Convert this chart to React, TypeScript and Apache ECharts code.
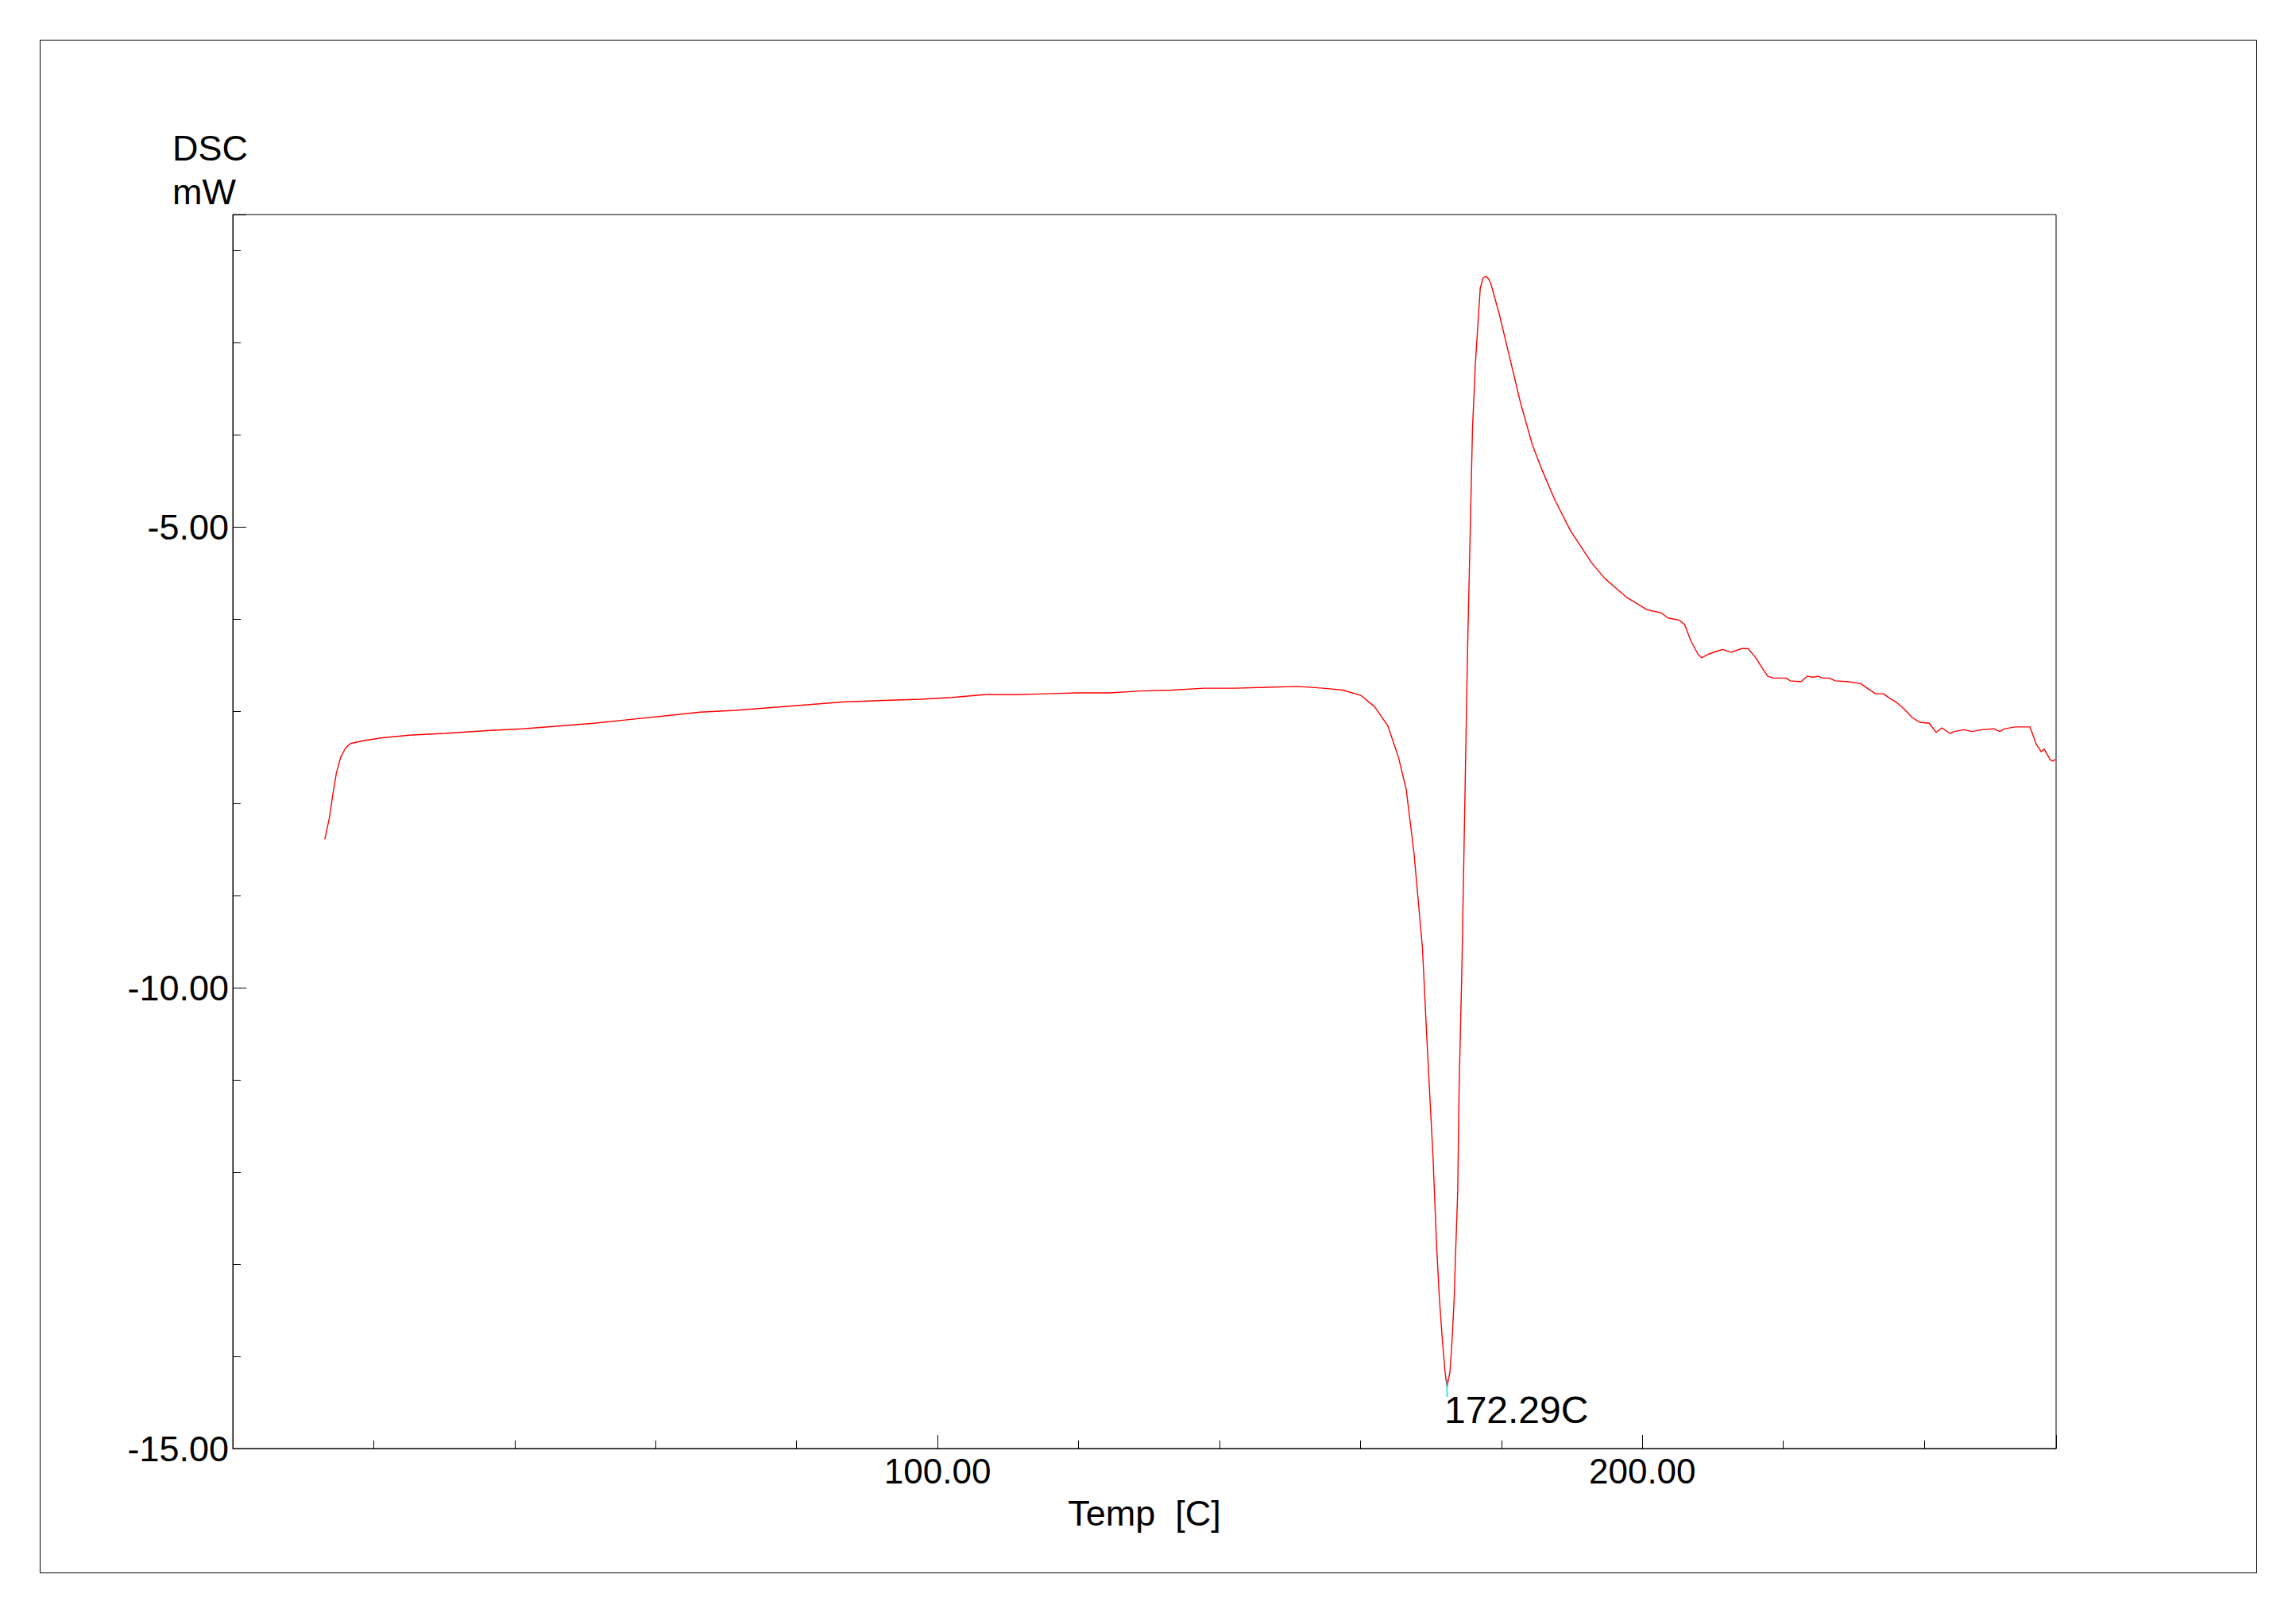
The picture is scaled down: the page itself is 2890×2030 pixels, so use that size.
import React, { useEffect, useRef } from 'react';
import * as echarts from 'echarts';

// Temperature (°C) of each sample on the DSC trace
const temps = [
  13.05, 13.7, 14.2, 14.7, 15.3, 16.0, 16.7, 18.5, 21.0, 25.0, 30.1, 36.1, 41.1, 46.2, 51.2, 56.2,
  61.3, 66.3, 71.3, 76.4, 81.4, 86.4, 93.2, 97.6, 102.1, 106.6, 111.0, 115.5, 119.9, 124.4, 128.8,
  133.3, 137.8, 142.2, 146.7, 151.1, 154.7, 157.5, 160.1, 162.0, 163.9, 165.4, 166.5, 167.6, 168.8,
  169.5, 170.3, 170.8, 171.2, 171.6, 172.0, 172.29, 172.7, 173.0, 173.3, 173.5, 173.8, 174.0, 174.4,
  174.8, 175.2, 175.5, 175.9, 176.3, 176.7, 177.0, 177.4, 177.8, 178.2, 178.5, 179.7, 181.2, 182.7,
  184.4, 185.7, 187.6, 189.8, 192.8, 194.7, 197.7, 200.7, 202.6, 203.7, 205.2, 206.0, 206.9, 207.9,
  208.4, 209.4, 210.5, 211.4, 212.6, 214.1, 215.0, 216.1, 216.9, 217.8, 218.6, 220.4, 221.0, 222.5,
  223.4, 224.2, 225.0, 225.5, 226.5, 227.4, 229.3, 231.0, 231.9, 233.1, 234.2, 235.1, 236.0, 237.2,
  238.3, 239.4, 240.7, 241.7, 242.5, 243.6, 244.3, 245.6, 246.8, 248.1, 249.9, 250.7, 251.4, 252.9,
  255.0, 255.9, 256.6, 257.0, 257.9, 258.3, 258.6,
];

// DSC signal (mW) for each temperature above
const dsc = [
  -8.39, -8.16, -7.9, -7.67, -7.5, -7.4, -7.35, -7.32, -7.29, -7.26, -7.24, -7.21, -7.19, -7.16, -7.13, -7.09,
  -7.05, -7.01, -6.99, -6.96, -6.93, -6.9, -6.88, -6.87, -6.85, -6.82, -6.82, -6.81, -6.8, -6.8, -6.78,
  -6.77, -6.75, -6.75, -6.74, -6.73, -6.75, -6.77, -6.83, -6.95, -7.16, -7.5, -7.85, -8.54, -9.57,
  -10.67, -11.84, -12.79, -13.37, -13.8, -14.17, -14.33, -14.17, -13.83, -13.37, -12.88, -12.22, -11.08, -9.77,
  -8.05, -6.33, -5.3, -3.93, -3.24, -2.76, -2.41, -2.3, -2.28, -2.31, -2.36, -2.69, -3.17, -3.65,
  -4.11, -4.37, -4.71, -5.04, -5.39, -5.56, -5.76, -5.9, -5.93, -5.99, -6.01, -6.06, -6.24, -6.38,
  -6.42, -6.38, -6.35, -6.33, -6.36, -6.32, -6.32, -6.42, -6.52, -6.62, -6.64, -6.64, -6.67, -6.68,
  -6.62, -6.63, -6.62, -6.64, -6.64, -6.67, -6.68, -6.7, -6.75, -6.81, -6.81, -6.86, -6.9, -6.98,
  -7.07, -7.12, -7.13, -7.23, -7.18, -7.24, -7.22, -7.2, -7.22, -7.2, -7.19, -7.22, -7.19, -7.17,
  -7.17, -7.36, -7.44, -7.41, -7.53, -7.54, -7.52,
];

const peakTemp = 172.29;
const peakLabel = '172.29C';
const peakMarker = [-14.24, -14.44];
const xTickLabels = [100, 200];
const yTickLabels = [-5, -10, -15];
const xRange = [0, 258.7];
const yRange = [-15, -1.61];
const xAxisName = 'Temp  [C]';
const yAxisTitle = 'DSC\nmW';

const FONT = '"Liberation Sans", Arial, sans-serif';

export default function App() {
  const ref = useRef<HTMLDivElement>(null);

  useEffect(() => {
    if (!ref.current) return;
    const chart = echarts.init(ref.current, null, { renderer: 'svg' });
    const lineData = temps.map((t, i) => [t, dsc[i]]);
    const minDsc = Math.min(...dsc);
    const near = (v: number, list: number[]) => list.some((l) => Math.abs(l - v) < 1e-6);

    chart.setOption({
      animation: false,
      backgroundColor: '#ffffff',
      grid: {
        left: 293,
        top: 270,
        right: 302,
        bottom: 207,
        show: true,
        borderColor: '#000',
        borderWidth: 1,
        backgroundColor: 'transparent',
      },
      xAxis: {
        type: 'value',
        min: xRange[0],
        max: xRange[1],
        interval: 100,
        axisLine: { show: true, onZero: false, lineStyle: { color: '#000', width: 1 } },
        axisTick: { show: true, inside: true, length: 17, lineStyle: { color: '#000', width: 1 } },
        minorTick: { show: true, splitNumber: 5, length: 10, lineStyle: { color: '#000', width: 1 } },
        splitLine: { show: false },
        minorSplitLine: { show: false },
        axisLabel: {
          formatter: (v: number) => (near(v, xTickLabels) ? v.toFixed(2) : ''),
          fontSize: 44,
          fontFamily: FONT,
          color: '#000',
          margin: 6,
          showMinLabel: true,
          showMaxLabel: true,
        },
        name: xAxisName,
        nameLocation: 'middle',
        nameGap: 59,
        nameTextStyle: { fontSize: 45, fontFamily: FONT, color: '#000' },
      },
      yAxis: {
        type: 'value',
        min: yRange[0],
        max: yRange[1],
        interval: 5,
        axisLine: { show: true, onZero: false, lineStyle: { color: '#000', width: 1 } },
        axisTick: { show: true, inside: true, length: 17, lineStyle: { color: '#000', width: 1 } },
        minorTick: { show: true, splitNumber: 5, length: 10, lineStyle: { color: '#000', width: 1 } },
        splitLine: { show: false },
        minorSplitLine: { show: false },
        axisLabel: {
          formatter: (v: number) => (near(v, yTickLabels) ? v.toFixed(2) : ''),
          fontSize: 45,
          fontFamily: FONT,
          color: '#000',
          margin: 5,
          showMinLabel: true,
          showMaxLabel: true,
        },
      },
      series: [
        {
          type: 'line',
          data: lineData,
          showSymbol: false,
          smooth: false,
          silent: true,
          lineStyle: { color: '#ff0000', width: 1.4 },
          markPoint: {
            symbol: 'circle',
            symbolSize: 1,
            silent: true,
            itemStyle: { color: 'rgba(0,0,0,0)' },
            label: {
              show: true,
              formatter: peakLabel,
              position: [-3, 6],
              align: 'left',
              verticalAlign: 'top',
              fontSize: 48,
              fontFamily: FONT,
              color: '#000',
            },
            data: [{ coord: [peakTemp, minDsc], value: peakLabel }],
          },
        },
        {
          type: 'line',
          data: peakMarker.map((v) => [peakTemp, v]),
          showSymbol: false,
          silent: true,
          lineStyle: { color: '#00e0f0', width: 1.5 },
        },
      ],
      graphic: [
        {
          type: 'rect',
          silent: true,
          shape: { x: 50.5, y: 50.5, width: 2790, height: 1929 },
          style: { fill: 'none', stroke: '#000', lineWidth: 1 },
        },
        {
          type: 'text',
          silent: true,
          x: 217,
          y: 213.5,
          style: {
            text: yAxisTitle,
            font: `45px ${FONT}`,
            lineHeight: 55,
            fill: '#000',
            align: 'left',
            verticalAlign: 'middle',
          },
        },
      ],
    });

    return () => chart.dispose();
  }, []);

  return (
    <div
      ref={ref}
      style={{ position: 'fixed', left: 0, top: 0, width: 2890, height: 2030, background: '#fff' }}
    />
  );
}
